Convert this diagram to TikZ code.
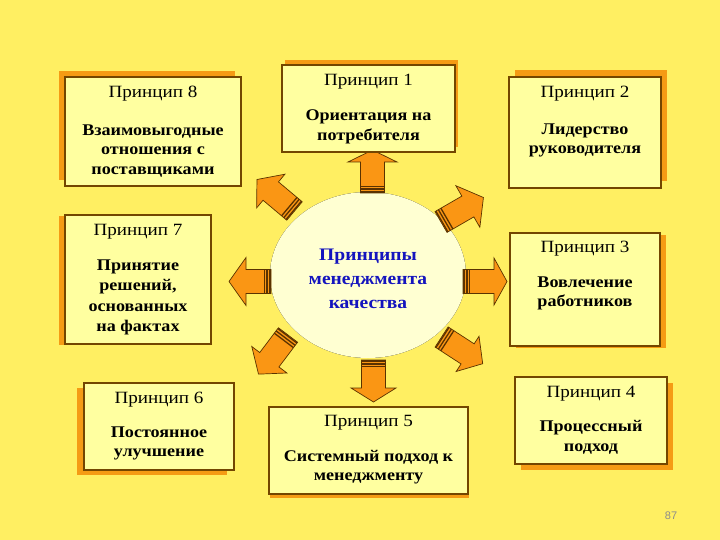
\documentclass[tikz,border=0pt]{standalone}
\usepackage{fontspec}
\setmainfont[FakeStretch=1.11]{Liberation Serif}
\newfontfamily\numfont{Liberation Sans}
\usetikzlibrary{shadows}
\definecolor{bgc}{RGB}{255,239,98}
\definecolor{boxfillc}{RGB}{255,255,160}
\definecolor{borderc}{RGB}{115,70,0}
\definecolor{shadowc}{RGB}{245,155,20}
\definecolor{arrowc}{RGB}{250,150,20}
\definecolor{arrowline}{RGB}{90,50,0}
\definecolor{glowin}{RGB}{255,255,210}
\definecolor{glowmid}{RGB}{255,252,175}
\definecolor{bluec}{RGB}{20,20,190}
\pgfdeclareradialshading{glow}{\pgfpoint{0bp}{0bp}}{color(0bp)=(glowin); color(28bp)=(glowin); color(40bp)=(glowmid); color(50bp)=(bgc)}
\newcommand\blkarrow[6]{%
  \begin{scope}[shift={(#1,#2)}, rotate=#3]
    \filldraw[arrowst] (0pt,-12pt) -- ({(#4-#5)*1pt},-12pt) -- ({(#4-#5)*1pt},{-#6*1pt})
      -- (#4pt,0pt) -- ({(#4-#5)*1pt},{#6*1pt}) -- ({(#4-#5)*1pt},12pt) -- (0pt,12pt) -- cycle;
    \draw[stripest] (1pt,-12pt) -- (1pt,12pt);
    \draw[stripest] (3.9pt,-12pt) -- (3.9pt,12pt);
    \draw[stripest] (6.8pt,-12pt) -- (6.8pt,12pt);
  \end{scope}}
\tikzset{
  pbox/.style={draw=borderc, line width=1.8pt, fill=boxfillc, inner sep=0pt},
  shad/.style 2 args={general shadow={fill=shadowc, shadow xshift=#1pt, shadow yshift=#2pt}},
  ttl/.style={font=\fontsize{17.2}{19}\selectfont, text=black, inner sep=0pt},
  bdy/.style={font=\bfseries\fontsize{16.3}{19.5}\selectfont, text=black, align=center, inner sep=0pt},
  ctr/.style={font=\bfseries\fontsize{17.6}{24}\selectfont, text=bluec, align=center, inner sep=0pt},
  arrowst/.style={fill=arrowc, draw=arrowline, line width=0.7pt, line join=miter},
  stripest/.style={draw=arrowline, line width=1.3pt},
}
\begin{document}
\begin{tikzpicture}[x=1pt, y=-1pt]
\useasboundingbox (0,0) rectangle (720,540);
\fill[bgc] (0,0) rectangle (720,540);
% central glow
\fill[shading=glow] (368,275) ellipse (98 and 83);
% block arrows
\blkarrow{372.5}{193}{90}{43}{12}{24.5}
\blkarrow{373.5}{360}{-90}{42}{14}{22.5}
\blkarrow{271}{281.5}{180}{42}{17}{24}
\blkarrow{463}{281.5}{0}{44}{13}{23.5}
\blkarrow{441}{222}{30}{49}{18}{24}
\blkarrow{294.5}{211}{140}{49}{18}{22}
\blkarrow{288}{335}{233}{49}{18}{22}
\blkarrow{441.6}{337}{-33}{49}{18}{21}
% boxes
\node[pbox, shad={-6}{6}, minimum width=176pt, minimum height=109pt] (b8) at (153,131.5) {};
\node[pbox, shad={3}{5}, minimum width=173pt, minimum height=87pt] (b1) at (368.5,108.5) {};
\node[pbox, shad={6}{7}, minimum width=152pt, minimum height=111pt] (b2) at (585,132.5) {};
\node[pbox, shad={6}{-2}, minimum width=150pt, minimum height=113pt] (b3) at (585,289.5) {};
\node[pbox, shad={6}{-6}, minimum width=152pt, minimum height=87pt] (b4) at (591,420.5) {};
\node[pbox, shad={1}{-4}, minimum width=199pt, minimum height=87pt] (b5) at (368.5,450.5) {};
\node[pbox, shad={-7}{-5}, minimum width=150pt, minimum height=87pt] (b6) at (159,426.5) {};
\node[pbox, shad={-6}{-1}, minimum width=146pt, minimum height=129pt] (b7) at (138,279.5) {};
% titles
\node[ttl] (t8) at (153,94) {Принцип 8};
\node[ttl] (t1) at (368.5,82) {Принцип 1};
\node[ttl] (t2) at (585,94) {Принцип 2};
\node[ttl] (t3) at (585,249) {Принцип 3};
\node[ttl] (t4) at (591,394) {Принцип 4};
\node[ttl] (t5) at (368.5,423) {Принцип 5};
\node[ttl] (t6) at (159,400) {Принцип 6};
\node[ttl] (t7) at (138,232) {Принцип 7};
% bodies
\node[bdy] (d8) at (153,151) {Взаимовыгодные\\отношения с\\поставщиками};
\node[bdy] (d1) at (368.5,127) {Ориентация на\\потребителя};
\node[bdy] (d2) at (585,140.5) {Лидерство\\руководителя};
\node[bdy] (d3) at (585,293.5) {Вовлечение\\работников};
\node[bdy] (d4) at (591,437.5) {Процессный\\подход};
\node[bdy] (d5) at (368.5,467) {Системный подход к\\менеджменту};
\node[bdy] (d6) at (159,443.5) {Постоянное\\улучшение};
\node[bdy, font=\bfseries\fontsize{16.3}{20.5}\selectfont] (d7) at (138,297.5) {Принятие\\решений,\\основанных\\на фактах};
% centre
\node[ctr] (c) at (368,279) {Принципы\\менеджмента\\качества};
% page number
\node[font=\numfont\fontsize{11}{13}\selectfont, text=black!45, inner sep=0pt] (pg) at (671,516) {87};
\end{tikzpicture}
\end{document}
